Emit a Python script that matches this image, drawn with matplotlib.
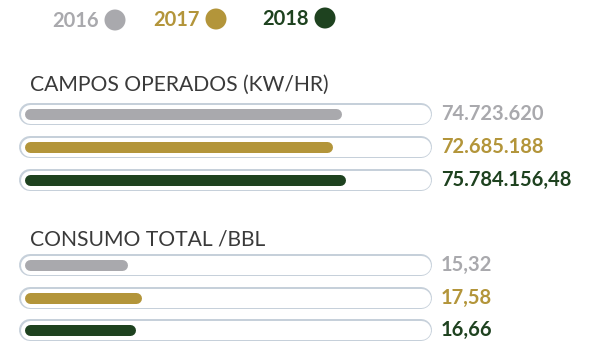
import matplotlib
matplotlib.use("Agg")
import matplotlib.pyplot as plt
from matplotlib.patches import Circle

# --- data ---------------------------------------------------------------
years = ["2016", "2017", "2018"]
colors = ["#a9a9ad", "#b3953a", "#1e421f"]

campos_title = "CAMPOS OPERADOS (KW/HR)"
campos_values = [74723620, 72685188, 75784156.48]
campos_labels = ["74.723.620", "72.685.188", "75.784.156,48"]

consumo_title = "CONSUMO TOTAL /BBL"
consumo_values = [15.32, 17.58, 16.66]
consumo_labels = ["15,32", "17,58", "16,66"]

# --- figure -------------------------------------------------------------
W, H = 610, 348
fig = plt.figure(figsize=(W / 100, H / 100), dpi=100)
fig.patch.set_facecolor("white")

FONT = "Lato"
track_edge = "#c6d0da"


def px_axes(left, top, right, bottom):
    """Axes placed by pixel edges (origin top-left)."""
    return fig.add_axes([left / W, 1 - bottom / H, (right - left) / W, (bottom - top) / H])


def pt(px):
    return px * 72 / 100


def draw_group(top, bottom, values, labels, xmax, title, title_y):
    ax = px_axes(30, top, 427, bottom)
    ax.set_xlim(0, xmax)
    ax.set_ylim(len(values) - 0.5, -0.5)
    ax.axis("off")
    ytr = ax.get_yaxis_transform()
    for i, (v, lab, c) in enumerate(zip(values, labels, colors)):
        # rounded outline track
        ax.plot([0.001, 0.986], [i, i], transform=ytr, color=track_edge,
                lw=pt(22), solid_capstyle="round", clip_on=False, zorder=1)
        ax.plot([0.001, 0.986], [i, i], transform=ytr, color="white",
                lw=pt(19), solid_capstyle="round", clip_on=False, zorder=2)
        # value bar
        ax.plot([0, v], [i, i], color=c, lw=pt(11), solid_capstyle="round",
                clip_on=False, zorder=3)
        ax.text(1.035, i, lab, transform=ytr, ha="left", va="center",
                color=c, fontsize=14.5, fontweight="bold", family=FONT)
    fig.text(30 / W, 1 - title_y / H, title, ha="left", va="center",
             fontsize=15.2, fontweight="normal", color="#3a3a3a", family=FONT)
    return ax


draw_group(97.5, 196.5, campos_values, campos_labels, 97e6, campos_title, 85)
draw_group(248.5, 346.5, consumo_values, consumo_labels, 66, consumo_title, 240)

# --- legend -------------------------------------------------------------
leg = fig.add_axes([0, 0, 1, 1])
leg.set_xlim(0, W)
leg.set_ylim(H, 0)
leg.axis("off")
leg_text_x = [52, 153, 262]
leg_y = [20, 19, 18]
for x, y, yr, c in zip(leg_text_x, leg_y, years, colors):
    leg.text(x, y + 1, yr, ha="left", va="center", color=c,
             fontsize=14.5, fontweight="bold", family=FONT)
    leg.add_patch(Circle((x + 63, y), 10.5, color=c, lw=0))

fig.savefig("out.png", dpi=100, facecolor="white")
